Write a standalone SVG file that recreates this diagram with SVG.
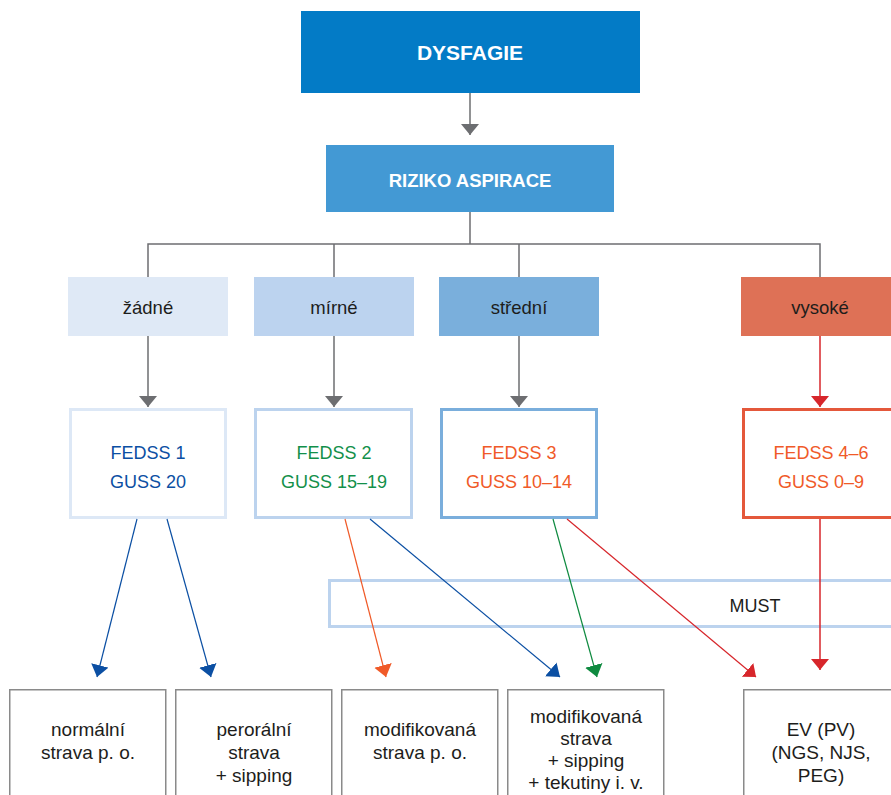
<svg xmlns="http://www.w3.org/2000/svg" width="891" height="795" viewBox="0 0 891 795">
<style>
text{font-family:"Liberation Sans",Arial,sans-serif;font-size:18px;text-anchor:middle;fill:#1d1d1b}
.title{font-weight:bold;fill:#fff}
.lvl{font-size:18.5px}
.bt{font-size:19px}
.fed{fill:#fff;stroke-width:3}
.bot{fill:#fff;stroke:#8a8a8a;stroke-width:1.5}
.tree{fill:none;stroke:#6d6e71;stroke-width:1.5}
.blue{fill:#0b4fa3}.green{fill:#12904a}.orange{fill:#f05a28}
</style>
<defs>
<marker id="mg" markerUnits="userSpaceOnUse" markerWidth="11" markerHeight="18" viewBox="0 0 11 18" refX="11" refY="9" orient="auto"><path d="M0,0L11,9L0,18z" fill="#6d6e71"/></marker>
<marker id="mr" markerUnits="userSpaceOnUse" markerWidth="11" markerHeight="18" viewBox="0 0 11 18" refX="11" refY="9" orient="auto"><path d="M0,0L11,9L0,18z" fill="#d7262b"/></marker>
<marker id="mb" markerUnits="userSpaceOnUse" markerWidth="12" markerHeight="18" viewBox="0 0 12 18" refX="12" refY="9" orient="auto"><path d="M0,0L12,9L0,18z" fill="#0b4fa3"/></marker>
<marker id="mo" markerUnits="userSpaceOnUse" markerWidth="12" markerHeight="18" viewBox="0 0 12 18" refX="12" refY="9" orient="auto"><path d="M0,0L12,9L0,18z" fill="#f05a28"/></marker>
<marker id="mgr" markerUnits="userSpaceOnUse" markerWidth="12" markerHeight="18" viewBox="0 0 12 18" refX="12" refY="9" orient="auto"><path d="M0,0L12,9L0,18z" fill="#0e8a3f"/></marker>
</defs>

<g id="dysfagie"><rect x="301" y="11" width="339" height="82" fill="#037bc6"/><text class="title" x="470" y="60" style="font-size:21px">DYSFAGIE</text></g>
<g id="riziko"><rect x="326" y="145" width="288" height="67" fill="#4399d4"/><text class="title" x="470" y="187" style="font-size:18.5px">RIZIKO ASPIRACE</text></g>

<g id="zadne"><rect x="68" y="277" width="160" height="59" fill="#dfe9f6"/><text class="lvl" x="148" y="314">žádné</text></g>
<g id="mirne"><rect x="254" y="277" width="160" height="59" fill="#bcd3ef"/><text class="lvl" x="334" y="314">mírné</text></g>
<g id="stredni"><rect x="439" y="277" width="160" height="59" fill="#7aafdc"/><text class="lvl" x="519" y="314">střední</text></g>
<g id="vysoke"><rect x="741" y="277" width="160" height="59" fill="#de7156"/><text class="lvl" x="820" y="314">vysoké</text></g>

<g id="fedss1"><rect class="fed" x="70.5" y="409.5" width="155" height="108" stroke="#dde8f6"/><text class="blue" x="148" y="459">FEDSS 1</text><text class="blue" x="148" y="488">GUSS 20</text></g>
<g id="fedss2"><rect class="fed" x="255.5" y="409.5" width="156" height="108" stroke="#bcd3ee"/><text class="green" x="334" y="459">FEDSS 2</text><text class="green" x="334" y="488">GUSS 15–19</text></g>
<g id="fedss3"><rect class="fed" x="441.5" y="409.5" width="155" height="108" stroke="#7aaedc"/><text class="orange" x="519" y="459">FEDSS 3</text><text class="orange" x="519" y="488">GUSS 10–14</text></g>
<g id="fedss4"><rect class="fed" x="743.5" y="409.5" width="160" height="108" stroke="#e4583b"/><text class="orange" x="821" y="459">FEDSS 4–6</text><text class="orange" x="821" y="488">GUSS 0–9</text></g>

<g id="must"><rect x="329.5" y="580.5" width="580" height="46" fill="none" stroke="#bcd3ee" stroke-width="3"/><text x="755" y="612">MUST</text></g>

<g id="b1"><rect class="bot" x="9.75" y="689.75" width="156" height="120"/><text class="bt" x="88" y="736">normální</text><text class="bt" x="88" y="759">strava p. o.</text></g>
<g id="b2"><rect class="bot" x="175.75" y="689.75" width="156" height="120"/><text class="bt" x="254" y="736">perorální</text><text class="bt" x="254" y="759">strava</text><text class="bt" x="254" y="782">+ sipping</text></g>
<g id="b3"><rect class="bot" x="341.75" y="689.75" width="156" height="120"/><text class="bt" x="420" y="736">modifikovaná</text><text class="bt" x="420" y="759">strava p. o.</text></g>
<g id="b4"><rect class="bot" x="507.75" y="689.75" width="156" height="120"/><text class="bt" x="586" y="723">modifikovaná</text><text class="bt" x="586" y="745">strava</text><text class="bt" x="586" y="767">+ sipping</text><text class="bt" x="586" y="789">+ tekutiny i. v.</text></g>
<g id="b5"><rect class="bot" x="743.75" y="689.75" width="160" height="120"/><text class="bt" x="821" y="736">EV (PV)</text><text class="bt" x="821" y="759">(NGS, NJS,</text><text class="bt" x="821" y="782">PEG)</text></g>

<g id="connectors">
<line class="tree" x1="470" y1="93" x2="470" y2="135" marker-end="url(#mg)"/>
<path class="tree" d="M470,212V244M148,277V244H820V277M334,244V277M519,244V277"/>
<line class="tree" x1="148" y1="336" x2="148" y2="407" marker-end="url(#mg)"/>
<line class="tree" x1="334" y1="336" x2="334" y2="407" marker-end="url(#mg)"/>
<line class="tree" x1="519" y1="336" x2="519" y2="407" marker-end="url(#mg)"/>
<line x1="820" y1="336" x2="820" y2="407" stroke="#d7262b" stroke-width="1.5" marker-end="url(#mr)"/>
<line x1="137" y1="519" x2="97" y2="677" stroke="#0b4fa3" stroke-width="1.2" marker-end="url(#mb)"/>
<line x1="167" y1="519" x2="211" y2="677" stroke="#0b4fa3" stroke-width="1.2" marker-end="url(#mb)"/>
<line x1="345" y1="519" x2="386" y2="677" stroke="#f05a28" stroke-width="1.2" marker-end="url(#mo)"/>
<line x1="370" y1="519" x2="560" y2="677" stroke="#0b4fa3" stroke-width="1.2" marker-end="url(#mb)"/>
<line x1="553" y1="519" x2="597" y2="677" stroke="#0e8a3f" stroke-width="1.2" marker-end="url(#mgr)"/>
<line x1="567" y1="519" x2="756" y2="677" stroke="#d7262b" stroke-width="1.2" marker-end="url(#mr)"/>
<line x1="820" y1="519" x2="820" y2="670" stroke="#d7262b" stroke-width="1.5" marker-end="url(#mr)"/>
</g>
</svg>
